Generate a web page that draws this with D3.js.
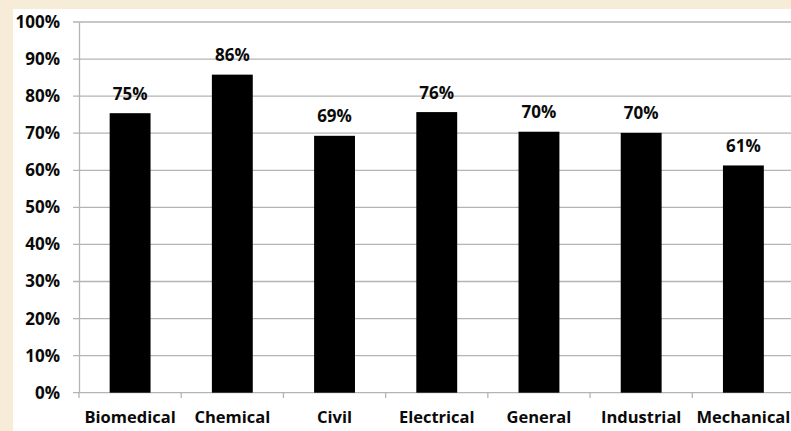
<!DOCTYPE html>
<html><head><meta charset="utf-8">
<script src="https://cdn.jsdelivr.net/npm/d3@7"></script>
<style>
html,body{margin:0;padding:0;background:#f6ecd8;}
svg{display:block;}
</style></head>
<body>
<svg id="chart" width="791" height="431"></svg>
<script>
const categories = ["Biomedical","Chemical","Civil","Electrical","General","Industrial","Mechanical"];
const values = [75.4, 85.8, 69.3, 75.7, 70.4, 70.1, 61.3];
const valueLabels = ["75%","86%","69%","76%","70%","70%","61%"];
const yTicks = [0,10,20,30,40,50,60,70,80,90,100];

const svg = d3.select("#chart");
svg.append("rect").attr("x",0).attr("y",0).attr("width",791).attr("height",431).attr("fill","#f6ecd8");
svg.append("rect").attr("x",13).attr("y",9).attr("width",778).attr("height",422).attr("fill","#ffffff");

const x = d3.scaleBand().domain(categories).range([79, 794.5]).paddingInner(0.6).paddingOuter(0.3);
const y = d3.scaleLinear().domain([0,100]).range([392.7, 22]);
const font = "'Open Sans', sans-serif";

// gridlines
svg.append("g").selectAll("line").data(yTicks).join("line")
  .attr("x1",73).attr("x2",791)
  .attr("y1",d=>y(d)).attr("y2",d=>y(d))
  .attr("stroke","#b4b4b4").attr("stroke-width",1.3);

// y axis
const yAxis = d3.axisLeft(y).tickValues(yTicks).tickFormat(d=>d+"%").tickSize(0).tickPadding(19);
const gy = svg.append("g").attr("transform","translate(79,0)").call(yAxis);
gy.select(".domain").attr("stroke","#b4b4b4").attr("stroke-width",1.3);
gy.selectAll("text").attr("font-family",font).attr("font-weight",700).attr("font-size",17).attr("fill","#0a0a0a");

// x axis boundaries ticks
const bw = (794.5-79)/categories.length;
svg.append("g").selectAll("line").data(d3.range(categories.length+1)).join("line")
  .attr("x1",d=>79+d*bw).attr("x2",d=>79+d*bw)
  .attr("y1",392.7).attr("y2",398)
  .attr("stroke","#b4b4b4").attr("stroke-width",1.3);

// bars
svg.append("g").selectAll("rect").data(values).join("rect")
  .attr("x",(d,i)=>x(categories[i]))
  .attr("width",x.bandwidth())
  .attr("y",d=>y(d))
  .attr("height",d=>y(0)-y(d))
  .attr("fill","#000");

// value labels
svg.append("g").selectAll("text").data(values).join("text")
  .attr("x",(d,i)=>x(categories[i])+x.bandwidth()/2)
  .attr("y",d=>y(d)-13.5)
  .attr("text-anchor","middle")
  .attr("font-family",font).attr("font-weight",700).attr("font-size",17).attr("fill","#0a0a0a")
  .text((d,i)=>valueLabels[i]);

// category labels
svg.append("g").selectAll("text").data(categories).join("text")
  .attr("x",(d)=>x(d)+x.bandwidth()/2)
  .attr("y",423)
  .attr("text-anchor","middle")
  .attr("font-family",font).attr("font-weight",700).attr("font-size",16.5).attr("fill","#0a0a0a")
  .text(d=>d);
</script>
</body></html>
